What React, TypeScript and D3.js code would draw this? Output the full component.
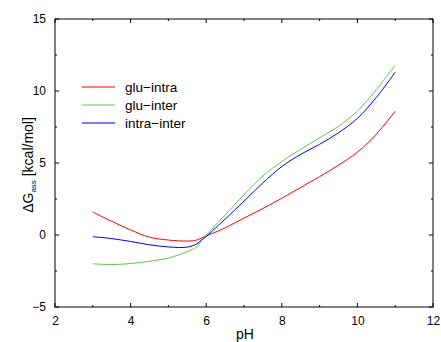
import React, { useEffect, useRef } from 'react';
import * as d3 from 'd3';

const W = 441;
const H = 342;
const MARGIN = { top: 19, right: 8, bottom: 35, left: 55 };

// pH sample points for each curve
const PH = [3, 3.5, 4, 4.5, 5, 5.5, 5.75, 5.88, 6.05, 6.25, 6.5, 7, 7.5, 8, 8.5, 9, 9.5, 10, 10.5, 11];
const GLU_INTRA = [1.6, 0.95, 0.35, -0.15, -0.35, -0.42, -0.35, -0.2, 0, 0.2, 0.5, 1.17, 1.84, 2.55, 3.3, 4.05, 4.85, 5.75, 7.0, 8.6];
const GLU_INTER = [-2.0, -2.05, -1.98, -1.82, -1.6, -1.15, -0.82, -0.35, 0.1, 0.7, 1.38, 2.8, 4.1, 5.1, 5.95, 6.75, 7.55, 8.6, 10.1, 11.8];
const INTRA_INTER = [-0.12, -0.25, -0.45, -0.68, -0.83, -0.84, -0.62, -0.35, 0, 0.5, 1.1, 2.35, 3.62, 4.75, 5.6, 6.3, 7.1, 8.1, 9.55, 11.3];

const SERIES = [
  { label: 'glu\u2212intra', color: '#ff0000', vals: GLU_INTRA },
  { label: 'glu\u2212inter', color: '#5ec94a', vals: GLU_INTER },
  { label: 'intra\u2212inter', color: '#0000ff', vals: INTRA_INTER },
];

const X_TICKS = [2, 4, 6, 8, 10, 12];
const X_MINOR = [3, 5, 7, 9, 11];
const Y_TICKS = [-5, 0, 5, 10, 15];
const Y_MINOR = [-2.5, 2.5, 7.5, 12.5];

const FONT = 'Liberation Sans, Arial, sans-serif';

const App: React.FC = () => {
  const svgRef = useRef<SVGSVGElement>(null);

  useEffect(() => {
    const svg = d3.select(svgRef.current);
    svg.selectAll('*').remove();

    const innerW = W - MARGIN.left - MARGIN.right;
    const innerH = H - MARGIN.top - MARGIN.bottom;

    const x = d3.scaleLinear().domain([2, 12]).range([0, innerW]);
    const y = d3.scaleLinear().domain([-5, 15]).range([innerH, 0]);

    const g = svg.append('g').attr('transform', `translate(${MARGIN.left},${MARGIN.top})`);

    // ticks point inward, mirrored on all four sides
    const drawXTicks = (vals: number[], len: number) => {
      vals.forEach(v => {
        const px = x(v);
        g.append('line').attr('x1', px).attr('x2', px).attr('y1', innerH).attr('y2', innerH - len).attr('stroke', '#000');
        g.append('line').attr('x1', px).attr('x2', px).attr('y1', 0).attr('y2', len).attr('stroke', '#000');
      });
    };
    const drawYTicks = (vals: number[], len: number) => {
      vals.forEach(v => {
        const py = y(v);
        g.append('line').attr('x1', 0).attr('x2', len).attr('y1', py).attr('y2', py).attr('stroke', '#000');
        g.append('line').attr('x1', innerW).attr('x2', innerW - len).attr('y1', py).attr('y2', py).attr('stroke', '#000');
      });
    };
    drawXTicks(X_TICKS, 4);
    drawXTicks(X_MINOR, 2);
    drawYTicks(Y_TICKS, 4);
    drawYTicks(Y_MINOR, 2);

    // tick labels
    g.append('g')
      .attr('transform', `translate(0,${innerH})`)
      .call(d3.axisBottom(x).tickValues(X_TICKS).tickSize(0).tickPadding(9).tickFormat(d3.format('d')))
      .call(sel => {
        sel.select('.domain').remove();
        sel.selectAll('text').attr('fill', '#000').attr('font-size', 12).attr('font-family', FONT);
      });
    g.append('g')
      .call(d3.axisLeft(y).tickValues(Y_TICKS).tickSize(0).tickPadding(9).tickFormat(d => d3.format('d')(+d).replace('-', '\u2212')))
      .call(sel => {
        sel.select('.domain').remove();
        sel.selectAll('text').attr('fill', '#000').attr('font-size', 12).attr('font-family', FONT);
      });

    // curves
    const line = d3.line<number>()
      .x((_, i) => x(PH[i]))
      .y(v => y(v))
      .curve(d3.curveCatmullRom.alpha(0.5));

    SERIES.forEach(s => {
      g.append('path')
        .datum(s.vals)
        .attr('fill', 'none')
        .attr('stroke', s.color)
        .attr('stroke-width', 1)
        .attr('d', line);
    });

    // frame
    g.append('rect').attr('width', innerW).attr('height', innerH)
      .attr('fill', 'none').attr('stroke', '#000').attr('stroke-width', 1);

    // legend
    const lg = g.append('g').attr('transform', `translate(${82 - MARGIN.left},${87 - MARGIN.top})`);
    SERIES.forEach((s, i) => {
      lg.append('line').attr('x1', 0).attr('x2', 33).attr('y1', i * 18).attr('y2', i * 18)
        .attr('stroke', s.color).attr('stroke-width', 1);
      lg.append('text').attr('x', 43).attr('y', i * 18 + 5)
        .attr('font-size', 13.5).attr('font-family', FONT).attr('fill', '#000')
        .text(s.label);
    });

    // axis titles
    svg.append('text')
      .attr('x', 245).attr('y', 339)
      .attr('text-anchor', 'middle').attr('font-size', 14).attr('font-family', FONT)
      .text('pH');

    const yt = svg.append('text')
      .attr('transform', `translate(33,165) rotate(-90)`)
      .attr('text-anchor', 'middle').attr('font-size', 14).attr('font-family', FONT);
    yt.append('tspan').text('\u0394G');
    yt.append('tspan').attr('font-size', 8).attr('dy', 3).text('ass');
    yt.append('tspan').attr('dy', -3).text(' [kcal/mol]');
  }, []);

  return (
    <svg ref={svgRef} width={W} height={H} style={{ display: 'block', position: 'absolute', left: 0, top: 0, background: '#fff' }} />
  );
};

export default App;
